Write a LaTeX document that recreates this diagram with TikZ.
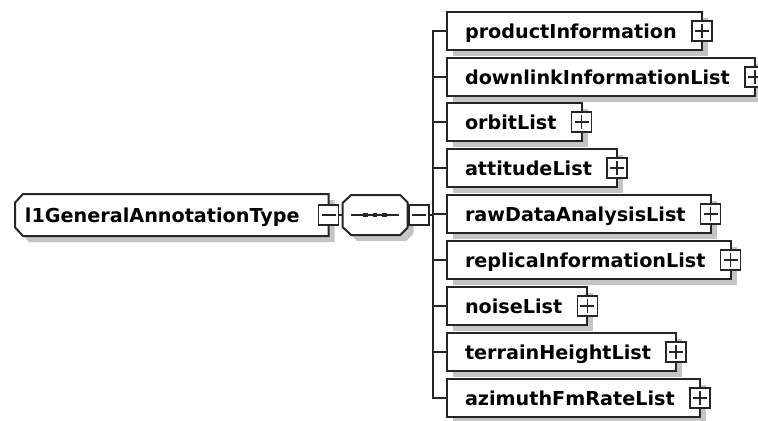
\documentclass[tikz,border=0pt]{standalone}
\usepackage{fontspec}
\setmainfont{DejaVu Sans}
\usetikzlibrary{shadows,backgrounds}

\definecolor{xsdline}{HTML}{262626}
\definecolor{xsdshadow}{HTML}{C4C4C4}

\tikzset{
  wire/.style={draw=xsdline, line width=1.5pt},
  shadowed/.style={drop shadow={shadow xshift=4.5pt, shadow yshift=-4.5pt, fill=xsdshadow, opacity=1}},
  elemtext/.style 2 args={anchor=west, minimum height=28.5pt, inner xsep=0pt, inner ysep=0pt, outer sep=0pt,
    text height=10.8pt, text depth=0pt,
    font=\fontsize{14.4pt}{17pt}\selectfont\bfseries,
    execute at begin node={\hskip#1}, execute at end node={\hskip#2}},
  elem/.style={elemtext={13.5pt}{18.75pt}, draw=xsdline, fill=white, line width=1.5pt, shadowed},
  togglebox/.style={draw=xsdline, fill=white, line width=1.2pt, minimum size=15pt, inner sep=0pt, outer sep=0pt},
  expandbox/.style={togglebox, path picture={
    \draw[xsdline, line width=1.2pt]
      ([xshift=2.3pt]path picture bounding box.west) -- ([xshift=-2.3pt]path picture bounding box.east)
      ([yshift=-2.3pt]path picture bounding box.north) -- ([yshift=2.3pt]path picture bounding box.south);}},
  collapsebox/.style={togglebox, path picture={
    \draw[xsdline, line width=1.2pt]
      ([xshift=2.3pt]path picture bounding box.west) -- ([xshift=-2.3pt]path picture bounding box.east);}},
}

\begin{document}
\begin{tikzpicture}[x=0.75pt, y=-0.75pt]
    \useasboundingbox (0,0) rectangle (758,421);
    \clip (0,0) rectangle (758,421);

    % root element, cut corners on the left
    \node[elemtext={7.5pt}{21.75pt}, minimum height=31.5pt] (annot) at (15,215) {l1GeneralAnnotationType};
    \begin{scope}[on background layer]
      \draw[wire, fill=white, shadowed] ([xshift=6pt]annot.north west) -- (annot.north east)
        -- (annot.south east) -- ([xshift=6pt]annot.south west)
        -- ([yshift=6.5pt]annot.south west) -- ([yshift=-6.5pt]annot.north west) -- cycle;
    \end{scope}
    \node[collapsebox] (annotx) at (annot.east) {};

    % sequence compositor
    \node[minimum width=48.75pt, minimum height=30pt, inner sep=0pt, outer sep=0pt] (seq) at (375,215) {};
    \draw[wire, fill=white, shadowed] ([xshift=6.5pt]seq.north west) -- ([xshift=-5.5pt]seq.north east)
      -- ([yshift=-5.5pt]seq.north east) -- ([yshift=5.5pt]seq.south east)
      -- ([xshift=-5.5pt]seq.south east) -- ([xshift=6.5pt]seq.south west)
      -- ([yshift=6pt]seq.south west) -- ([yshift=-6pt]seq.north west) -- cycle;
    \draw[wire] ([xshift=-18pt]seq.center) -- ([xshift=18pt]seq.center);
    \fill[xsdline] ([xshift=-7pt]seq.center) +(-1.7pt,-1.7pt) rectangle +(1.7pt,1.7pt);
    \fill[xsdline] (seq.center) +(-1.7pt,-1.7pt) rectangle +(1.7pt,1.7pt);
    \fill[xsdline] ([xshift=7pt]seq.center) +(-1.7pt,-1.7pt) rectangle +(1.7pt,1.7pt);
    \node[collapsebox, anchor=west] (seqx) at ([xshift=1pt]seq.east) {};

    \draw[wire] (annotx.east) -- (seq.west);

    \node[elem] (prodinfo) at (447,31) {productInformation};
    \node[expandbox] at (prodinfo.east) {};
    \node[elem] (downlink) at (447,77) {downlinkInformationList};
    \node[expandbox] at (downlink.east) {};
    \node[elem] (orbit) at (447,122) {orbitList};
    \node[expandbox] at (orbit.east) {};
    \node[elem] (attitude) at (447,168) {attitudeList};
    \node[expandbox] at (attitude.east) {};
    \node[elem] (rawdata) at (447,214) {rawDataAnalysisList};
    \node[expandbox] at (rawdata.east) {};
    \node[elem] (replica) at (447,260) {replicaInformationList};
    \node[expandbox] at (replica.east) {};
    \node[elem] (noise) at (447,306) {noiseList};
    \node[expandbox] at (noise.east) {};
    \node[elem] (terrain) at (447,352) {terrainHeightList};
    \node[expandbox] at (terrain.east) {};
    \node[elem] (azimuth) at (447,398) {azimuthFmRateList};
    \node[expandbox] at (azimuth.east) {};

    \draw[wire] (seqx.east) -- ++(4,0) |- (prodinfo.west);
    \draw[wire] (seqx.east) -- ++(4,0) |- (downlink.west);
    \draw[wire] (seqx.east) -- ++(4,0) |- (orbit.west);
    \draw[wire] (seqx.east) -- ++(4,0) |- (attitude.west);
    \draw[wire] (seqx.east) -- ++(4,0) |- (rawdata.west);
    \draw[wire] (seqx.east) -- ++(4,0) |- (replica.west);
    \draw[wire] (seqx.east) -- ++(4,0) |- (noise.west);
    \draw[wire] (seqx.east) -- ++(4,0) |- (terrain.west);
    \draw[wire] (seqx.east) -- ++(4,0) |- (azimuth.west);
\end{tikzpicture}
\end{document}
